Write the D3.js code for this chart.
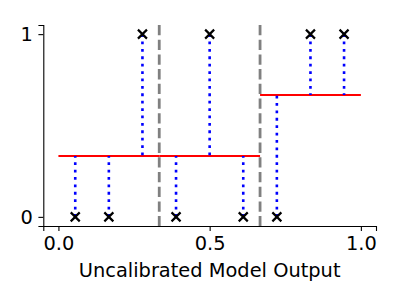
<!DOCTYPE html>
<html>
<head>
<meta charset="utf-8">
<script src="https://cdn.jsdelivr.net/npm/d3@7"></script>
<style>
  html, body { margin: 0; padding: 0; background: #fff; }
  svg { display: block; font-family: "DejaVu Sans", sans-serif; }
</style>
</head>
<body>
<div id="chart"></div>
<script>
// model outputs and true labels
const scores = [0.0556, 0.1667, 0.2778, 0.3889, 0.5, 0.6111, 0.7222, 0.8333, 0.9444];
const labels = [0, 0, 1, 0, 1, 0, 0, 1, 1];

// histogram binning: edges and the fraction of positives per bin
const binEdges = [0, 1 / 3, 2 / 3, 1];
const binValues = [1 / 3, 1 / 3, 2 / 3];

const xTicks = [0, 0.5, 1];
const yTicks = [0, 1];

const width = 400, height = 300;
const margin = { left: 43.3, right: 24, top: 25, bottom: 74 };

const svg = d3.select('#chart').append('svg')
    .attr('width', width)
    .attr('height', height);

const x = d3.scaleLinear()
    .domain([-0.05, 1.05])
    .range([margin.left, width - margin.right]);
const y = d3.scaleLinear()
    .domain([-0.05, 1.05])
    .range([height - margin.bottom, margin.top]);

const binOf = v => Math.min(binValues.length - 1, d3.bisectRight(binEdges, v) - 1);

// ─── Bin boundaries ───
svg.append('g')
    .selectAll('line')
    .data(binEdges.slice(1, -1))
    .join('line')
    .attr('x1', d => x(d)).attr('x2', d => x(d))
    .attr('y1', y(1.05)).attr('y2', y(-0.05))
    .attr('stroke', '#808080')
    .attr('stroke-width', 2.8)
    .attr('stroke-dasharray', '10.3,4.4');

// ─── Calibrated step function ───
svg.append('g')
    .selectAll('line')
    .data(binValues)
    .join('line')
    .attr('x1', (d, i) => x(binEdges[i]))
    .attr('x2', (d, i) => x(binEdges[i + 1]))
    .attr('y1', d => y(d)).attr('y2', d => y(d))
    .attr('stroke', 'red')
    .attr('stroke-width', 2);

// ─── Residual lines ───
svg.append('g')
    .selectAll('line')
    .data(scores)
    .join('line')
    .attr('x1', d => x(d)).attr('x2', d => x(d))
    .attr('y1', (d, i) => y(labels[i]))
    .attr('y2', d => y(binValues[binOf(d)]))
    .attr('stroke', 'blue')
    .attr('stroke-width', 2.6)
    .attr('stroke-dasharray', '2.8,4.6');

// ─── Markers ───
const m = 4.5;
svg.append('g')
    .selectAll('path')
    .data(scores)
    .join('path')
    .attr('transform', (d, i) => `translate(${x(d)},${y(labels[i])})`)
    .attr('d', `M${-m},${-m}L${m},${m}M${-m},${m}L${m},${-m}`)
    .attr('stroke', 'black')
    .attr('stroke-width', 2.2)
    .attr('fill', 'none');

// ─── Axes ───
const xAxis = svg.append('g')
    .attr('transform', `translate(0,${height - margin.bottom})`)
    .call(d3.axisBottom(x).tickValues(xTicks).tickFormat(d3.format('.1f'))
        .tickSizeOuter(0).tickSize(4.9).tickPadding(4.9));
const yAxis = svg.append('g')
    .attr('transform', `translate(${margin.left},0)`)
    .call(d3.axisLeft(y).tickValues(yTicks).tickFormat(d3.format('d'))
        .tickSizeOuter(0).tickSize(4.9).tickPadding(5.5));

[xAxis, yAxis].forEach(a => {
    a.select('.domain').attr('stroke', 'black').attr('stroke-width', 1.1);
    a.selectAll('.tick line').attr('stroke', 'black').attr('stroke-width', 1.1);
    a.selectAll('.tick text')
        .attr('fill', 'black')
        .attr('font-size', 19.4)
        .style('font-family', '"DejaVu Sans", sans-serif')
        .style('font-size', '19.4px');
});

svg.append('text')
    .attr('x', (margin.left + width - margin.right) / 2)
    .attr('y', 277)
    .attr('text-anchor', 'middle')
    .attr('fill', 'black')
    .style('font-size', '19.4px')
    .text('Uncalibrated Model Output');
</script>
</body>
</html>
